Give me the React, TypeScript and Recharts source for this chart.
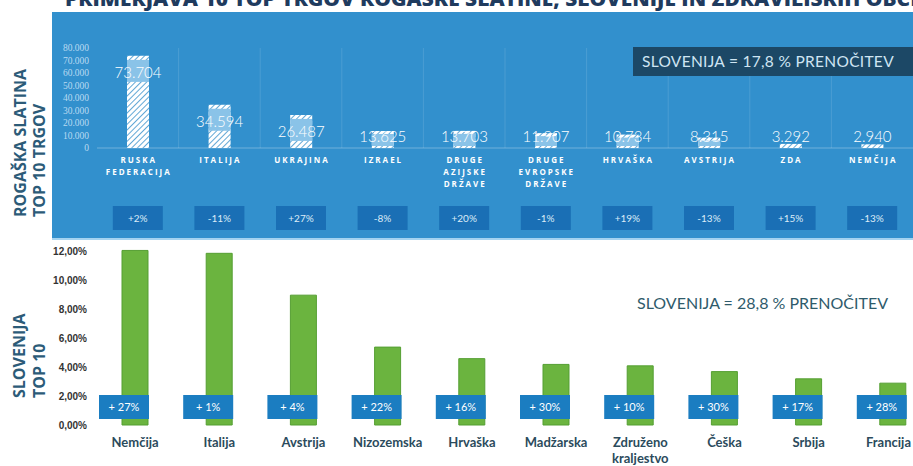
import { BarChart, Bar, XAxis, YAxis, CartesianGrid, LabelList } from "recharts";

// Rogaška Slatina - top 10 markets (overnight stays)
const topCountries = [
  "RUSKA\nFEDERACIJA",
  "ITALIJA",
  "UKRAJINA",
  "IZRAEL",
  "DRUGE\nAZIJSKE\nDRŽAVE",
  "DRUGE\nEVROPSKE\nDRŽAVE",
  "HRVAŠKA",
  "AVSTRIJA",
  "ZDA",
  "NEMČIJA",
];
const topNights = [73704, 34594, 26487, 13625, 13703, 11907, 10734, 8315, 3292, 2940];
const topChange = ["+2%", "-11%", "+27%", "-8%", "+20%", "-1%", "+19%", "-13%", "+15%", "-13%"];
const topTicks = [0, 10000, 20000, 30000, 40000, 50000, 60000, 70000, 80000];

// Slovenija - top 10 markets (share of overnight stays)
const sloCountries = [
  "Nemčija",
  "Italija",
  "Avstrija",
  "Nizozemska",
  "Hrvaška",
  "Madžarska",
  "Združeno\nkraljestvo",
  "Češka",
  "Srbija",
  "Francija",
];
const sloShare = [12.1, 11.9, 9.0, 5.4, 4.6, 4.2, 4.1, 3.7, 3.2, 2.9];
const sloChange = ["+ 27%", "+ 1%", "+ 4%", "+ 22%", "+ 16%", "+ 30%", "+ 10%", "+ 30%", "+ 17%", "+ 28%"];
const sloTicks = [0, 2, 4, 6, 8, 10, 12];

const topData = topCountries.map((name, i) => ({ name, nights: topNights[i], change: topChange[i] }));
const sloData = sloCountries.map((name, i) => ({ name, share: sloShare[i], change: sloChange[i] }));

const thousands = (v: number) => String(v).replace(/\B(?=(\d{3})+(?!\d))/g, ".");

function TopTick({ x, y, payload }: any) {
  const lines = String(payload.value).split("\n");
  const row = topData.find((d) => d.name === payload.value);
  return (
    <g>
      {lines.map((l, i) => (
        <text
          key={i}
          x={x + 1}
          y={y + 15 + i * 12}
          textAnchor="middle"
          fill="#ffffff"
          fontSize={8}
          fontWeight={700}
          letterSpacing={2}
          fontFamily="'Open Sans', sans-serif"
        >
          {l}
        </text>
      ))}
      <rect x={x - 25} y={y + 58} width={50} height={24} fill="#1a6fb5" />
      <text x={x} y={y + 74} textAnchor="middle" fill="#dcecf8" fontSize={10} fontFamily="Lato, sans-serif">
        {row ? row.change : ""}
      </text>
    </g>
  );
}

function TopValue({ x, y, width, height, value }: any) {
  const ty = Math.min(y + 22, y + height - 6);
  const top = Math.max(y + 3, ty - 18);
  const bottom = Math.min(y + height, ty + 4);
  return (
    <g>
      {bottom > top && <rect x={x} y={top} width={width} height={bottom - top} fill="#8ac3e8" />}
      <text
        x={x + width / 2}
        y={ty}
        textAnchor="middle"
        fill="#ffffff"
        fontSize={15}
        fontWeight={300}
        fontFamily="Lato, sans-serif"
      >
        {thousands(value)}
      </text>
    </g>
  );
}

function SloTick({ x, y, payload }: any) {
  const lines = String(payload.value).split("\n");
  // keep the last label inside the page edge
  const atEdge = x + 28 > 913;
  return (
    <g>
      {lines.map((l, i) => (
        <text
          key={i}
          x={atEdge ? 911 : x}
          y={y + 22 + i * 16}
          textAnchor={atEdge ? "end" : "middle"}
          fill="#2b4b5c"
          fontSize={13}
          fontWeight={700}
          fontFamily="Lato, sans-serif"
        >
          {l}
        </text>
      ))}
    </g>
  );
}

function SloChangeBox({ x, y, width, height, value }: any) {
  const right = x + width + 1;
  const bottom = y + height;
  return (
    <g>
      <rect x={right - 50} y={bottom - 30} width={50} height={24} fill="#1b7dc1" />
      <text x={right - 25} y={bottom - 14} textAnchor="middle" fill="#ffffff" fontSize={11} fontFamily="Lato, sans-serif">
        {value}
      </text>
    </g>
  );
}

export default function App() {
  return (
    <div style={{ position: "absolute", left: 0, top: 0, width: 913, height: 466, overflow: "hidden", background: "#fff" }}>
      <div
        style={{
          position: "absolute",
          left: 52,
          top: 12,
          width: 861,
          height: 226,
          background: "#3290cd",
          borderBottom: "2px solid #a4d3f0",
        }}
      >
        <BarChart width={861} height={226} data={topData} margin={{ top: 36, right: 0, bottom: 0, left: 0 }}>
          <defs>
            <pattern id="hatch" patternUnits="userSpaceOnUse" width="4" height="4" patternTransform="rotate(45)">
              <rect width="4" height="4" fill="#ffffff" />
              <line x1="0" y1="0" x2="0" y2="4" stroke="#3a92cc" strokeWidth="1.6" />
            </pattern>
          </defs>
          <CartesianGrid
            horizontal={false}
            stroke="rgba(255,255,255,0.12)"
            verticalCoordinatesGenerator={({ offset }: any) =>
              topData.slice(1).map((_, i) => offset.left + ((i + 1) * offset.width) / topData.length)
            }
          />
          <XAxis
            dataKey="name"
            interval={0}
            height={90}
            tickLine={false}
            tickSize={0}
            tickMargin={0}
            axisLine={{ stroke: "rgba(255,255,255,0.3)" }}
            tick={<TopTick />}
          />
          <YAxis
            width={45}
            domain={[0, 80000]}
            ticks={topTicks}
            interval={0}
            tickFormatter={thousands}
            tickLine={false}
            axisLine={false}
            tickSize={0}
            tickMargin={8}
            tick={{ fill: "#b9daf1", fontSize: 9.5, fontFamily: "'Liberation Serif', serif" }}
          />
          <Bar dataKey="nights" fill="url(#hatch)" barSize={22} isAnimationActive={false}>
            <LabelList dataKey="nights" content={<TopValue />} />
          </Bar>
        </BarChart>
      </div>

      <div style={{ position: "absolute", left: 0, top: 240, width: 935, height: 226 }}>
        <BarChart width={935} height={226} data={sloData} margin={{ top: 9, right: 0, bottom: 0, left: 0 }}>
          <XAxis
            dataKey="name"
            interval={0}
            height={41}
            tickLine={false}
            axisLine={false}
            tickSize={0}
            tickMargin={0}
            tick={<SloTick />}
          />
          <YAxis
            width={93}
            domain={[0, 12.2]}
            ticks={sloTicks}
            interval={0}
            tickFormatter={(v: number) => v.toFixed(2).replace(".", ",") + "%"}
            tickLine={false}
            axisLine={false}
            tickSize={0}
            tickMargin={6}
            tick={{ fill: "#333333", fontSize: 10, fontWeight: 700, fontFamily: "'Liberation Sans', sans-serif" }}
          />
          <Bar dataKey="share" fill="#6bb43f" stroke="#559f33" strokeWidth={1} barSize={26} isAnimationActive={false}>
            <LabelList dataKey="change" content={<SloChangeBox />} />
          </Bar>
        </BarChart>
      </div>

      <svg width={913} height={466} style={{ position: "absolute", left: 0, top: 0, pointerEvents: "none" }}>
        <text
          x={65}
          y={6}
          fill="#1f3b5e"
          fontSize={20}
          fontWeight={800}
          fontFamily="'Open Sans', sans-serif"
          textLength={870}
          lengthAdjust="spacingAndGlyphs"
        >
          PRIMERJAVA 10 TOP TRGOV ROGAŠKE SLATINE, SLOVENIJE IN ZDRAVILIŠKIH OBČIN
        </text>

        <g fill="#2c5b78" fontSize={16} fontWeight={700} fontFamily="'Open Sans', sans-serif">
          <text transform="translate(26,217) rotate(-90)">ROGAŠKA SLATINA</text>
          <text transform="translate(45,217) rotate(-90)">TOP 10 TRGOV</text>
          <text transform="translate(25,398) rotate(-90)">SLOVENIJA</text>
          <text transform="translate(45,398) rotate(-90)">TOP 10</text>
        </g>

        <rect x={633} y={47} width={290} height={29} fill="#1c4866" />
        <text x={642} y={67} fill="#cfe5f3" fontSize={15.5} fontFamily="Lato, sans-serif" letterSpacing={0.3}>
          SLOVENIJA = 17,8 % PRENOČITEV
        </text>
        <text x={637} y={309} fill="#2f5b6b" fontSize={16} fontFamily="Lato, sans-serif">
          SLOVENIJA = 28,8 % PRENOČITEV
        </text>
      </svg>
    </div>
  );
}
